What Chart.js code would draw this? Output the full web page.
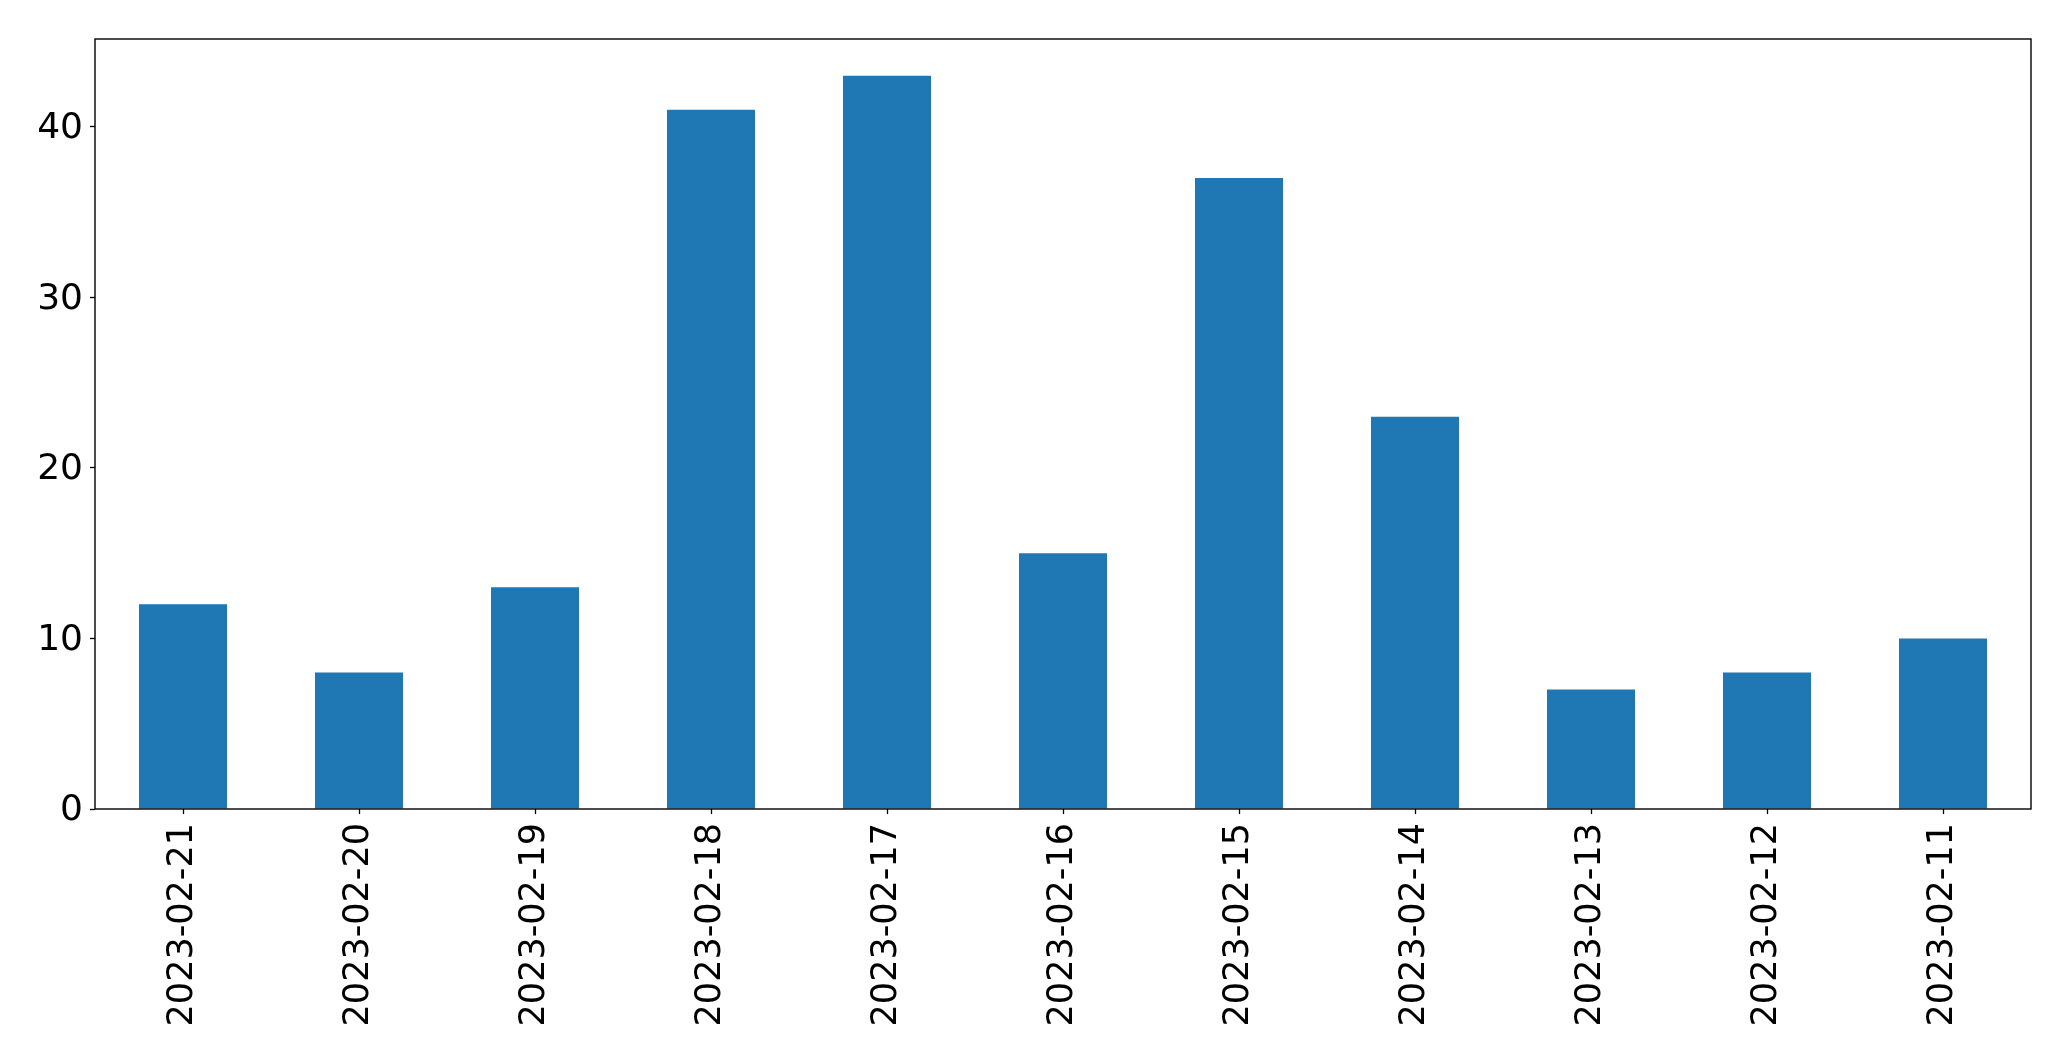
<!DOCTYPE html>
<html>
<head>
<meta charset="utf-8">
<script src="https://cdn.jsdelivr.net/npm/chart.js@4"></script>
<style>
html,body{margin:0;padding:0;background:#fff;}
#wrap{width:2071px;height:1061px;}
</style>
</head>
<body>
<div id="wrap"><canvas id="c" width="2071" height="1061"></canvas></div>
<script>
const categories = ["2023-02-21","2023-02-20","2023-02-19","2023-02-18","2023-02-17","2023-02-16","2023-02-15","2023-02-14","2023-02-13","2023-02-12","2023-02-11"];
const values = [12, 8, 13, 41, 43, 15, 37, 23, 7, 8, 10];
const yTicks = [0, 10, 20, 30, 40];

const XFONT = {family: "'DejaVu Sans', sans-serif", size: 35};
const YFONT = {family: "'DejaVu Sans', sans-serif", size: 36};

const frame = {
  id: 'frame',
  afterDraw(chart) {
    const a = chart.chartArea, ctx = chart.ctx;
    ctx.save();
    ctx.strokeStyle = '#000';
    ctx.lineWidth = 1.4;
    ctx.strokeRect(a.left, a.top, a.right - a.left, a.bottom - a.top);
    ctx.restore();
  }
};

new Chart(document.getElementById('c'), {
  type: 'bar',
  data: {
    labels: categories,
    datasets: [{
      data: values,
      backgroundColor: '#1f77b4',
      borderWidth: 0,
      categoryPercentage: 1.0,
      barPercentage: 0.5
    }]
  },
  options: {
    responsive: false,
    animation: false,
    devicePixelRatio: 1,
    layout: {padding: {top: 39, right: 40, left: 0, bottom: 0}},
    plugins: {legend: {display: false}, tooltip: {enabled: false}},
    scales: {
      x: {
        offset: true,
        grid: {display: true, drawOnChartArea: false, drawTicks: true, tickLength: 5, tickWidth: 1.3, color: '#000', offset: false},
        border: {display: false},
        ticks: {color: '#000', font: XFONT, minRotation: 90, maxRotation: 90, autoSkip: false, padding: 9},
        afterFit(s) { s.height = 252; }
      },
      y: {
        min: 0,
        max: Math.max(...values) * 1.05,
        grid: {display: true, drawOnChartArea: false, drawTicks: true, tickLength: 5, tickWidth: 1.3, color: '#000'},
        border: {display: false},
        ticks: {
          color: '#000', font: YFONT, stepSize: 10, includeBounds: false, padding: 7, labelOffset: 2,
          callback: (v) => yTicks.includes(v) ? String(v) : null
        },
        afterFit(s) { s.width = 95; }
      }
    }
  },
  plugins: [frame]
});
</script>
</body>
</html>
